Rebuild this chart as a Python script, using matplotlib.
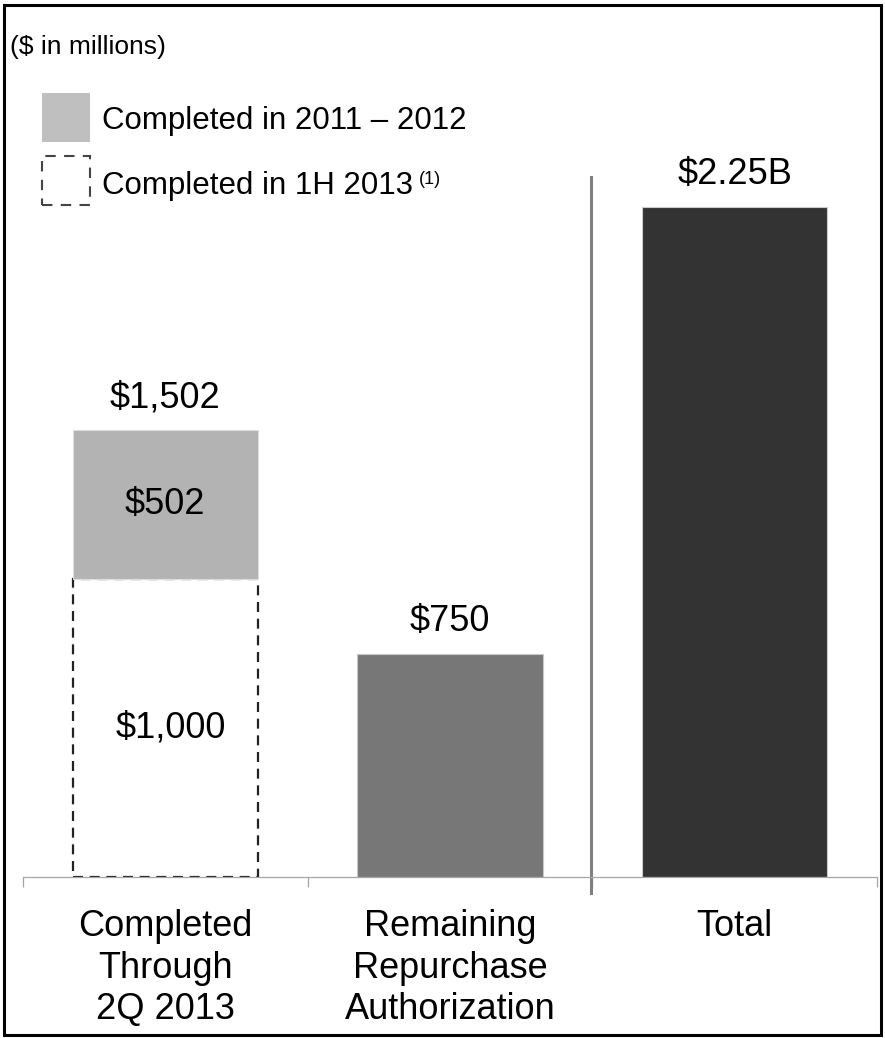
import matplotlib
matplotlib.use("Agg")
import matplotlib.pyplot as plt
from matplotlib.patches import Rectangle

plt.rcParams['font.family'] = ['Liberation Sans', 'DejaVu Sans']

# Data ($ in millions)
categories = ["Completed\nThrough\n2Q 2013", "Remaining\nRepurchase\nAuthorization", "Total"]
completed_1h_2013 = 1000
completed_2011_2012 = 502
remaining = 750
total = 2250
top_labels = ["$1,502", "$750", "$2.25B"]
legend_labels = ["Completed in 2011 \u2013 2012", "Completed in 1H 2013"]

W, H = 885, 1038
fig = plt.figure(figsize=(W / 100, H / 100), dpi=100)
ax = fig.add_axes([23 / W, (H - 877) / H, 854 / W, 700 / H])

x = [0, 1, 2]
bw = 0.65

# first column: dashed 1H 2013 part with the grey 2011-2012 part on top
ax.bar(x[0], completed_1h_2013, width=bw, facecolor='none', edgecolor='#222222',
       linewidth=1.6, linestyle=(0, (4.5, 3)))
ax.bar(x[0], completed_2011_2012, bottom=completed_1h_2013, width=bw,
       color='#b3b3b3', edgecolor='#dddddd', linewidth=0.8)
ax.bar(x[1], remaining, width=bw, color='#777777', edgecolor='#c8c8c8', linewidth=0.8)
ax.bar(x[2], total, width=bw, color='#333333', edgecolor='#cccccc', linewidth=0.8)

# value labels
tops = [completed_1h_2013 + completed_2011_2012, remaining, total]
for xi, t, lab in zip(x, tops, top_labels):
    ax.annotate(lab, (xi, t), xytext=(0, 23), textcoords='offset points',
                ha='center', va='center', fontsize=26)
ax.text(x[0], completed_1h_2013 + completed_2011_2012 / 2, f"${completed_2011_2012}",
        ha='center', va='center', fontsize=26)
ax.text(x[0] + 0.02, completed_1h_2013 / 2, f"${completed_1h_2013:,}",
        ha='center', va='center', fontsize=26)

# divider between the parts and the total
ax.axvline(1.495, ymin=-0.023, ymax=1.0, color='#808080', linewidth=2.2, clip_on=False)

ax.set_xlim(-0.5, 2.5)
ax.set_ylim(0, 2350)
ax.set_yticks([])
for s in ['top', 'right', 'left']:
    ax.spines[s].set_visible(False)
ax.spines['bottom'].set_color('#a6a6a6')
ax.spines['bottom'].set_linewidth(0.9)

ax.set_xticks(x)
ax.set_xticklabels(categories, fontsize=26, linespacing=1.25)
ax.tick_params(axis='x', which='major', length=0, pad=23)
ax.set_xticks([-0.5, 0.5, 1.5, 2.5], minor=True)
ax.tick_params(axis='x', which='minor', length=7.5, color='#a6a6a6', width=0.9)

# units note
fig.text(10 / W, 1 - 47 / H, "($ in millions)", fontsize=19, va='center', ha='left')

# legend
fig.patches.append(Rectangle((42 / W, 1 - 142 / H), 48 / W, 49 / H,
                             transform=fig.transFigure, facecolor='#bfbfbf', edgecolor='none'))
fig.patches.append(Rectangle((42 / W, 1 - 205 / H), 48 / W, 49 / H,
                             transform=fig.transFigure, facecolor='none', edgecolor='#444444',
                             linewidth=1.5, linestyle=(0, (5, 4))))
fig.text(102 / W, 1 - 121 / H, legend_labels[0], fontsize=22.5, va='center', ha='left')
t2 = fig.text(102 / W, 1 - 186 / H, legend_labels[1], fontsize=22.5, va='center', ha='left')
fig.canvas.draw()
bb = t2.get_window_extent()
fig.text((bb.x1 + 6) / W, 1 - 180 / H, "(1)", fontsize=13, va='center', ha='left')

# outer frame
fig.patches.append(Rectangle((4 / W, 3 / H), 877 / W, 1030 / H, transform=fig.transFigure,
                             facecolor='none', edgecolor='black', linewidth=2.2))

fig.savefig("out.png", dpi=100)
